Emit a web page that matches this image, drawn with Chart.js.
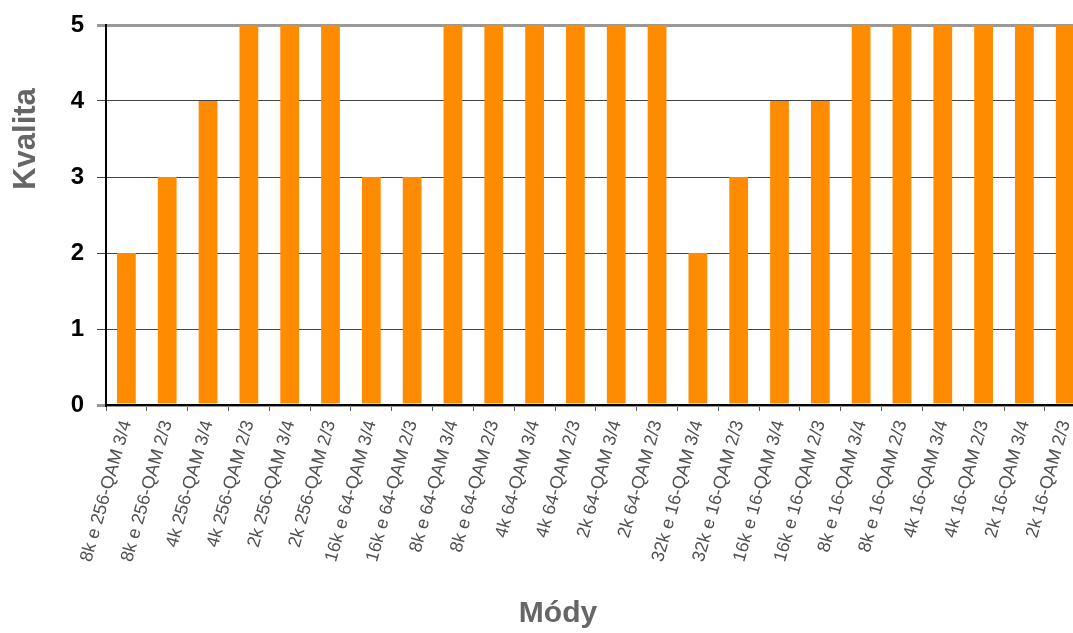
<!DOCTYPE html>
<html>
<head>
<meta charset="utf-8">
<script src="https://cdn.jsdelivr.net/npm/chart.js@4"></script>
<style>
  html, body { margin: 0; padding: 0; background: #fff; overflow: hidden; }
  #wrap { width: 1093px; height: 633px; }
</style>
</head>
<body>
<div id="wrap"><canvas id="kvalita"></canvas></div>
<script>
var modes = [
  "8k e 256-QAM 3/4", "8k e 256-QAM 2/3", "4k 256-QAM 3/4", "4k 256-QAM 2/3",
  "2k 256-QAM 3/4", "2k 256-QAM 2/3", "16k e 64-QAM 3/4", "16k e 64-QAM 2/3",
  "8k e 64-QAM 3/4", "8k e 64-QAM 2/3", "4k 64-QAM 3/4", "4k 64-QAM 2/3",
  "2k 64-QAM 3/4", "2k 64-QAM 2/3", "32k e 16-QAM 3/4", "32k e 16-QAM 2/3",
  "16k e 16-QAM 3/4", "16k e 16-QAM 2/3", "8k e 16-QAM 3/4", "8k e 16-QAM 2/3",
  "4k 16-QAM 3/4", "4k 16-QAM 2/3", "2k 16-QAM 3/4", "2k 16-QAM 2/3"
];
var quality = [2, 3, 4, 5, 5, 5, 3, 3, 5, 5, 5, 5, 5, 5, 2, 3, 4, 4, 5, 5, 5, 5, 5, 5];
var yTicks = [0, 1, 2, 3, 4, 5];

// titles drawn by hand so they sit where the original puts them
var axisTitles = {
  id: 'axisTitles',
  afterDraw: function(chart) {
    var c = chart.ctx;
    c.save();
    c.fillStyle = '#666666';
    c.textAlign = 'center';
    c.textBaseline = 'middle';
    c.font = 'bold 30px "Liberation Sans", Arial, sans-serif';
    c.fillText('Módy', 558, 614);
    c.translate(26, 139);
    c.rotate(-Math.PI / 2);
    c.font = 'bold 31px "Liberation Sans", Arial, sans-serif';
    c.fillText('Kvalita', 0, 0);
    c.restore();
  }
};

var ctx = document.getElementById("kvalita");
var graf = new Chart(ctx, {
  type: 'bar',
  data: {
    labels: modes,
    datasets: [{
      label: 'Kvalita',
      data: quality,
      backgroundColor: '#FF8C00',
      borderWidth: 0,
      barPercentage: 0.46,
      categoryPercentage: 1
    }]
  },
  options: {
    responsive: true,
    maintainAspectRatio: false,
    animation: false,
    layout: { padding: { top: 25, left: 0, right: 0, bottom: 0 } },
    plugins: {
      legend: { display: false },
      tooltip: { enabled: false }
    },
    scales: {
      x: {
        offset: true,
        afterFit: function(s) { s.height = 228; },
        border: { color: '#000', width: 2 },
        grid: { offset: true, drawOnChartArea: false, drawTicks: true, tickLength: 6, color: '#555' },
        ticks: {
          autoSkip: false,
          minRotation: 74,
          maxRotation: 74,
          padding: 7,
          color: '#505050',
          font: { family: '"Liberation Sans", Arial, sans-serif', size: 18, weight: 'normal' }
        }
      },
      y: {
        min: 0,
        max: 5,
        afterFit: function(s) { s.width = 106; },
        afterBuildTicks: function(s) { s.ticks = yTicks.map(function(v) { return { value: v }; }); },
        border: { color: '#000', width: 2 },
        grid: {
          color: function(c) { return (c.tick && (c.tick.value === 5 || c.tick.value === 0)) ? '#999999' : '#444444'; },
          lineWidth: function(c) { return (c.tick && (c.tick.value === 5 || c.tick.value === 0)) ? 3 : 1; },
          tickLength: 9
        },
        ticks: {
          padding: 13,
          color: '#000',
          font: { family: '"Liberation Sans", Arial, sans-serif', size: 24, weight: 'bold', lineHeight: 0.9 }
        }
      }
    }
  },
  plugins: [axisTitles]
});
</script>
</body>
</html>
